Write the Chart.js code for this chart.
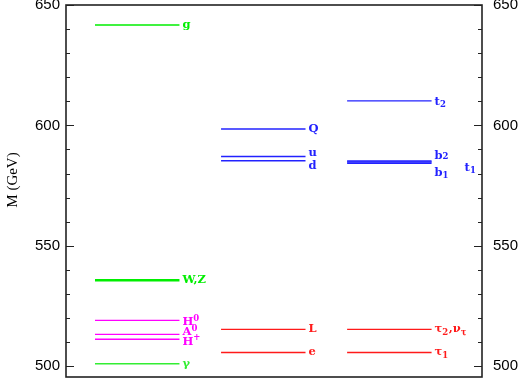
<!DOCTYPE html>
<html><head><meta charset="utf-8">
<script src="https://cdn.jsdelivr.net/npm/chart.js@4.4.0/dist/chart.umd.min.js"></script>
<style>html,body{margin:0;padding:0;background:#fff}canvas{display:block}</style>
</head><body>
<div style="width:520px;height:380px"><canvas id="c" width="520" height="380"></canvas></div>
<script>
// ---- data ----
const yTicks = [500, 550, 600, 650];
const gauginoLabels = ['g', 'W,Z', 'H0', 'A0', 'H+', 'γ'];
const gauginoMasses = [641.7, 535.7, 519.0, 513.2, 511.2, 501.0];
const squarkSleptonLabels = ['Q', 'u', 'd', 'L', 'e'];
const squarkSleptonMasses = [598.5, 587.1, 585.3, 515.3, 505.7];
const thirdGenLabels = ['t2', 'b2', 't1', 'b1', 'τ2,ντ', 'τ1'];
const thirdGenMasses = [610.2, 585.2, 584.8, 584.3, 515.3, 505.7];
const axisTitle = 'M (GeV)';

// ---- styling (not data) ----
const GREEN = '#00ee00', MAG = '#ff00ff', BLUE = '#2222ff', RED = '#ff1a1a';
const colorOf = {
  'g': GREEN, 'W,Z': GREEN, 'γ': '#33ee33', 'H0': MAG, 'A0': MAG, 'H+': MAG,
  'Q': BLUE, 'u': BLUE, 'd': BLUE, 'L': RED, 'e': RED,
  't2': BLUE, 'b2': BLUE, 't1': BLUE, 'b1': BLUE, 'τ2,ντ': RED, 'τ1': RED
};
const widthOf = { 'W,Z': 2.4 };
// rich text: segments [text, dy, small], plus label offsets [dx, dy]
const richOf = {
  'H0': [['H', 0, 0], ['0', -4, 1]],
  'A0': [['A', 0, 0], ['0', -4, 1]],
  'H+': [['H', 0, 0], ['+', -4, 1]],
  't2': [['t', 0, 0], ['2', 3, 1]],
  'b2': [['b', 0, 0], ['2', 1, 1]],
  'b1': [['b', 0, 0], ['1', 3, 1]],
  't1': [['t', 0, 0], ['1', 3, 1]],
  'τ2,ντ': [['τ', 0, 0], ['2', 3, 1], [',ν', 0, 0], ['τ', 3, 1]],
  'τ1': [['τ', 0, 0], ['1', 3, 1]]
};
const offOf = {
  'H0': [0, 2], 'A0': [0, -2], 'H+': [0, 3], 'u': [0, -3], 'd': [0, 5],
  'b2': [0, -5], 'b1': [0, 10], 't1': [30, 6], 't2': [0, 1]
};

const columns = [
  { labels: gauginoLabels, masses: gauginoMasses },
  { labels: squarkSleptonLabels, masses: squarkSleptonMasses },
  { labels: thirdGenLabels, masses: thirdGenMasses }
];
const X0 = 0.23, X1 = 0.9;

const datasets = [];
const annotations = [];
columns.forEach((col, i) => {
  col.masses.forEach((m, j) => {
    const lab = col.labels[j];
    datasets.push({
      label: lab,
      data: [{ x: i + X0, y: m }, { x: i + X1, y: m }],
      borderColor: colorOf[lab], backgroundColor: colorOf[lab],
      borderWidth: widthOf[lab] || 1.4, pointRadius: 0, showLine: true, fill: false
    });
    annotations.push({ x: i + X1, y: m, label: lab });
  });
});

const decor = {
  id: 'decor',
  afterDatasetsDraw(chart) {
    const ctx = chart.ctx, a = chart.chartArea;
    const ys = chart.scales.y, xs = chart.scales.x;
    ctx.save();
    // frame
    ctx.strokeStyle = '#222'; ctx.lineWidth = 1.6;
    ctx.strokeRect(a.left, a.top, a.right - a.left, a.bottom - a.top);
    // inward ticks
    ctx.lineWidth = 1.2;
    for (let v = 500; v <= 650; v += 10) {
      const p = Math.round(ys.getPixelForValue(v)) + 0.5;
      const len = (v % 50 === 0) ? 8 : 4;
      ctx.beginPath();
      ctx.moveTo(a.left, p); ctx.lineTo(a.left + len, p);
      ctx.moveTo(a.right, p); ctx.lineTo(a.right - len, p);
      ctx.stroke();
    }
    // tick labels
    ctx.fillStyle = '#000';
    ctx.font = '15px "Liberation Sans", Arial, sans-serif';
    ctx.textBaseline = 'middle';
    yTicks.forEach(v => {
      const p = ys.getPixelForValue(v);
      ctx.textAlign = 'right'; ctx.fillText(String(v), a.left - 6, p);
      ctx.textAlign = 'left'; ctx.fillText(String(v), a.right + 11, p);
    });
    // axis title
    ctx.save();
    ctx.translate(13, 180);
    ctx.rotate(-Math.PI / 2);
    ctx.textAlign = 'center'; ctx.textBaseline = 'middle';
    ctx.font = '15px "Liberation Serif", "Times New Roman", serif';
    ctx.fillText(axisTitle, 0, 0);
    ctx.restore();
    // level labels
    ctx.textAlign = 'left'; ctx.textBaseline = 'middle';
    annotations.forEach(an => {
      const off = offOf[an.label] || [0, 0];
      let x = xs.getPixelForValue(an.x) + 3 + off[0];
      const y = ys.getPixelForValue(an.y) + off[1];
      ctx.fillStyle = colorOf[an.label];
      const segs = richOf[an.label] || [[an.label, 0, 0]];
      segs.forEach(s => {
        ctx.font = s[2] ? 'bold 8.5px "DejaVu Serif", serif' : 'bold 11.5px "DejaVu Serif", serif';
        ctx.fillText(s[0], x, y + s[1]);
        x += ctx.measureText(s[0]).width + (s[2] ? 0.5 : 0);
      });
    });
    ctx.restore();
  }
};

new Chart(document.getElementById('c'), {
  type: 'scatter',
  data: { datasets },
  options: {
    responsive: false, animation: false,
    layout: { padding: { left: 66, right: 38, top: 5, bottom: 3 } },
    plugins: { legend: { display: false }, tooltip: { enabled: false } },
    scales: {
      x: { type: 'linear', min: 0, max: 3.3, display: false },
      y: { type: 'linear', min: 495.5, max: 650, display: false }
    }
  },
  plugins: [decor]
});
</script>
</body></html>
